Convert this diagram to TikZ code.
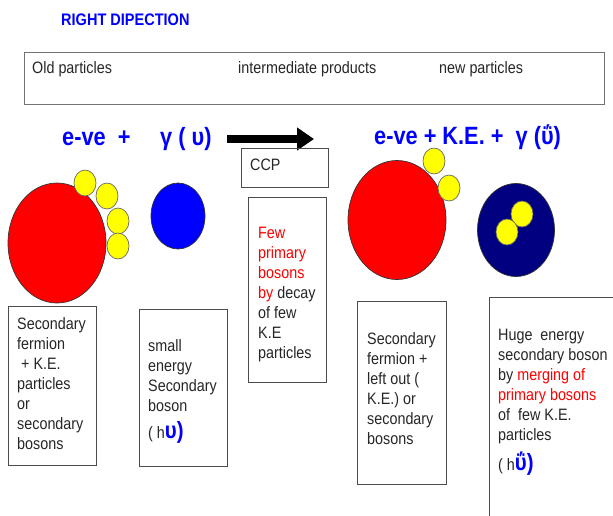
\documentclass[tikz,border=0pt]{standalone}
\usepackage{fontspec}
\setmainfont{Liberation Sans}[FakeStretch=0.87]
\usetikzlibrary{shapes.geometric,arrows.meta}
\definecolor{eqblue}{RGB}{0,0,255}
\definecolor{navyb}{RGB}{0,0,128}
\definecolor{redc}{RGB}{255,0,0}
\definecolor{yel}{RGB}{255,255,0}
\tikzset{
  frame/.style={draw=black!70,line width=1pt,rectangle,inner sep=0pt,anchor=north west},
  body/.style={inner sep=0pt,anchor=north west,align=left,font=\fontsize{16.5}{20}\selectfont,text=black!85},
  lbl/.style={inner sep=0pt,anchor=base west,font=\fontsize{16.5}{20}\selectfont,text=black!85},
  eq/.style={inner sep=0pt,anchor=base west,font=\fontsize{25}{27}\selectfont\bfseries,text=eqblue},
  ball/.style={ellipse,draw=black!80,line width=0.7pt,inner sep=0pt},
  bead/.style={ellipse,draw=black!60,line width=0.7pt,fill=yel,inner sep=0pt,minimum width=22pt,minimum height=26pt},
}
\newcommand{\bigups}[1]{{\fontsize{23.5}{20}\selectfont\bfseries\color{eqblue}#1)}}
\begin{document}
\begin{tikzpicture}[x=1pt,y=-1pt]
\useasboundingbox (0,0) rectangle (613,515);
% title
\node[inner sep=0pt,anchor=base west,font=\fontsize{16.7}{20}\selectfont\bfseries,text=eqblue] (title) at (61,25) {RIGHT DIPECTION};
% top box
\node[frame,draw=black!55,line width=1.2pt,minimum width=580pt,minimum height=52pt] (top) at (24,52) {};
\node[lbl] (old) at (32,73) {Old particles};
\node[lbl] (inter) at (238,73) {intermediate products};
\node[lbl] (new) at (439,73) {new particles};
% equations
\node[eq] (eqa) at (62,145) {e-ve\ \ +};
\node[eq] (eqb) at (160,145) {γ ( υ)};
\node[eq] (eqc) at (374,144) {e-ve + K.E. +\ \ γ (ΰ)};
% arrow
\coordinate (arrs) at (227,139);
\coordinate (arre) at (314,139);
\draw[line width=8pt,-{Triangle[length=17pt,width=22pt]}] (arrs) -- (arre);
% CCP box
\node[frame,minimum width=87pt,minimum height=39pt] (ccpbox) at (241,148) {};
\node[lbl] (ccp) at (250,170) {CCP};
% left particles
\node[ball,fill=redc,minimum width=98pt,minimum height=120pt] (redl) at (57,243) {};
\node[bead] (y1) at (85,183) {};
\node[bead] (y2) at (107,196) {};
\node[bead] (y3) at (118,221) {};
\node[bead] (y4) at (118,246) {};
\node[ball,fill=eqblue,minimum width=54pt,minimum height=66pt] (bluel) at (178,216) {};
% right particles
\node[ball,fill=redc,minimum width=98pt,minimum height=119pt] (redr) at (397,220) {};
\node[bead] (y5) at (434,161) {};
\node[bead] (y6) at (449,188) {};
\node[ball,fill=navyb,minimum width=77pt,minimum height=93pt] (navyr) at (516,230) {};
\node[bead] (y7) at (522,214) {};
\node[bead] (y8) at (507,232) {};
% boxes
\node[frame,minimum width=88pt,minimum height=159pt] (box1) at (8,306) {};
\node[body] (t1) at (17,317) {Secondary\\fermion\\\ + K.E.\\particles\\or\\secondary\\bosons};
\node[frame,minimum width=88pt,minimum height=157pt] (box2) at (139,309) {};
\node[body] (t2) at (148,339) {small\\energy\\Secondary\\boson\\[7pt]( h\bigups{υ}};
\node[frame,minimum width=78pt,minimum height=185pt] (box3) at (248,197) {};
\node[body] (t3) at (258,227) {\textcolor{redc}{Few}\\\textcolor{redc}{primary}\\\textcolor{redc}{bosons}\\\textcolor{redc}{by} decay\\of few\\K.E\\particles};
\node[frame,minimum width=89pt,minimum height=183pt] (box4) at (357,301) {};
\node[body] (t4) at (367,332) {Secondary\\fermion +\\left out (\\K.E.) or\\secondary\\bosons};
\draw[black!70,line width=1pt] (489,520) -- (489,297) -- (620,297);
\node[inner sep=0pt] (box5) at (550,400) {};
\node[body] (t5) at (498,329) {Huge\ \ energy\\secondary boson\\by \textcolor{redc}{merging of}\\\textcolor{redc}{primary bosons}\\of\ \ few K.E.\\particles\\[7pt]( h\bigups{ΰ}};
\end{tikzpicture}
\end{document}
